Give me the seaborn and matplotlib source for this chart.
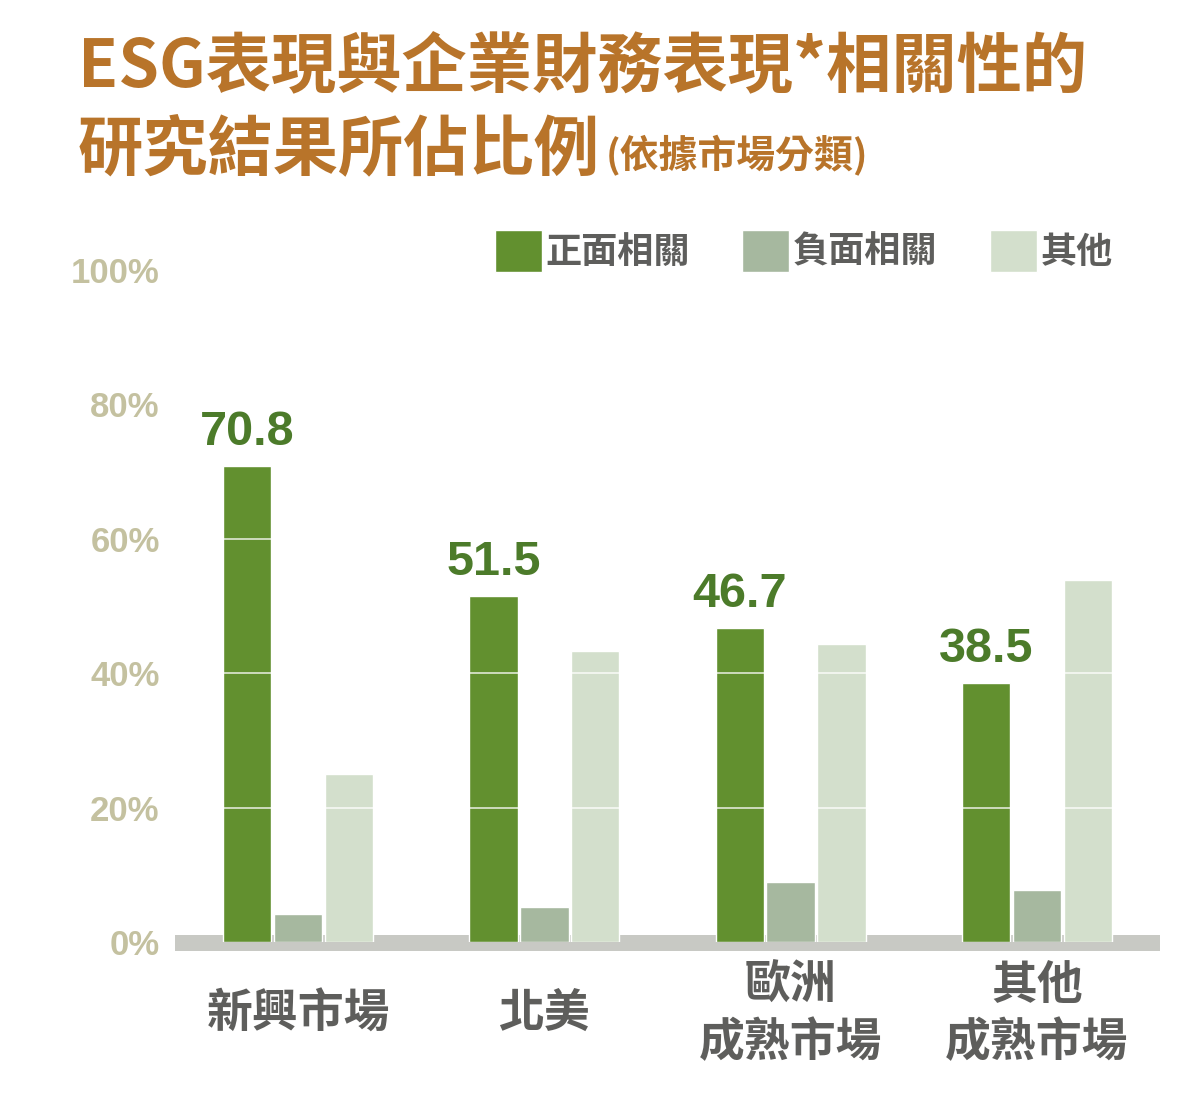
import pandas as pd
import numpy as np
from matplotlib import pyplot as plt
import seaborn as sns

#--- data
categories = ['新興市場', '北美', '歐洲\n成熟市場', '其他\n成熟市場']
series_names = ['正面相關', '負面相關', '其他']
positive = [70.8, 51.5, 46.7, 38.5]
negative = [4.2, 5.2, 8.9, 7.7]
other = [25.0, 43.3, 44.4, 53.8]
y_ticks = [0, 20, 40, 60, 80, 100]

df = pd.DataFrame({
    'market': categories * 3,
    'kind': [series_names[0]] * 4 + [series_names[1]] * 4 + [series_names[2]] * 4,
    'pct': positive + negative + other,
})

#--- style
sns.set_theme(style='white')
plt.rcParams['font.family'] = ['Noto Sans CJK TC', 'DejaVu Sans']

green = '#62902f'
sage = '#a6b89f'
light = '#d3dfcc'
title_col = '#b8742a'
tick_col = '#c4c1a0'
label_col = '#4c7b2a'
grey = '#5e5e5c'

fig = plt.figure(figsize=(12.01, 11.01), dpi=100)
ax = fig.add_axes([175 / 1201, 159 / 1101, 985 / 1201, 672 / 1101])

sns.barplot(df, x='market', y='pct', hue='kind', order=categories,
            hue_order=series_names, palette=[green, sage, light],
            width=0.62, gap=0.05, ax=ax, saturation=1)

ax.set_ylim(0, 100)
ax.set_xlim(-0.5, len(categories) - 0.5)
ax.set_xlabel('')
ax.set_ylabel('')
sns.despine(ax=ax, left=True, bottom=True)

# baseline band and white grid lines through the bars
ax.axhline(-0.2, color='#c8c9c4', lw=11.5, zorder=0.5, clip_on=False,
           solid_capstyle='butt')
ax.hlines(y_ticks[1:-1], -0.5, len(categories) - 0.5, color='white',
          lw=1.2, zorder=3, alpha=0.8)

ax.set_yticks(y_ticks)
ax.set_yticklabels([f'{t}%' for t in y_ticks], fontfamily='Liberation Sans',
                   fontweight='bold', fontsize=25, color=tick_col)
ax.tick_params(axis='y', length=0, pad=11)

ax.set_xticks(range(len(categories)))
ax.set_xticklabels(categories, fontsize=33, fontweight='bold', color=grey,
                   linespacing=1.3)
for lab in ax.get_xticklabels():
    lab.set_verticalalignment('center')
ax.tick_params(axis='x', length=0, pad=52)

# value labels on the positive series
ax.bar_label(ax.containers[0], labels=[f'{v}' for v in positive], padding=8,
             fontfamily='Liberation Sans', fontweight='bold', fontsize=35,
             color=label_col)

# legend
sns.move_legend(ax, 'upper left', bbox_to_anchor=(495 / 1201, 1 - 230 / 1101),
                bbox_transform=fig.transFigure, ncol=3, frameon=False,
                title=None, fontsize=26, handlelength=1.3, handleheight=1.4,
                handletextpad=0.1, columnspacing=1.45, borderpad=0,
                borderaxespad=0)
for t in ax.get_legend().get_texts():
    t.set_color(grey)
    t.set_fontweight('bold')

#--- title
fig.text(78 / 1201, 1 - 68 / 1101, 'ESG表現與企業財務表現*相關性的',
         fontsize=47, fontweight='bold', color=title_col, va='center')
fig.text(78 / 1201, 1 - 150 / 1101, '研究結果所佔比例',
         fontsize=47, fontweight='bold', color=title_col, va='center')
fig.text(606 / 1201, 1 - 156 / 1101, '(依據市場分類)',
         fontsize=28, fontweight='bold', color=title_col, va='center')

plt.savefig('out.png', dpi=100)
plt.close()
